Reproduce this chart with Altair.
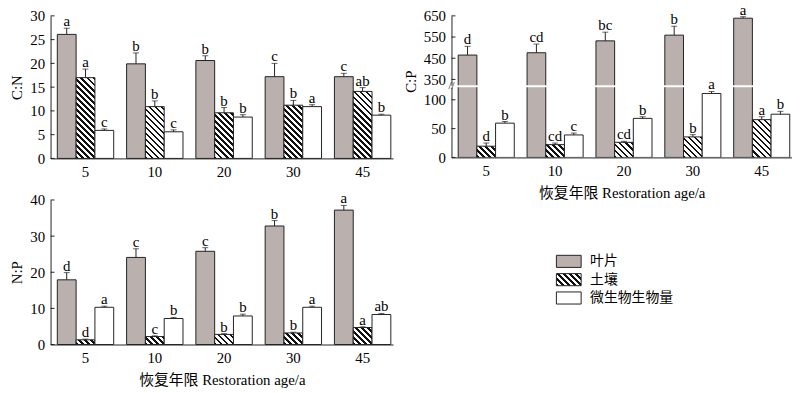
import altair as alt

# ---------------- data ----------------
ages = ["5", "10", "20", "30", "45"]
groups = ["叶片", "土壤", "微生物生物量"]

cn_leaf = [26.1, 19.9, 20.6, 17.2, 17.2]
cn_leaf_err = [27.4, 22.2, 21.6, 20.0, 17.9]
cn_soil = [17.0, 10.9, 9.6, 11.2, 14.1]
cn_soil_err = [18.8, 12.1, 10.7, 12.2, 14.9]
cn_mic = [5.9, 5.6, 8.7, 10.9, 9.1]
cn_mic_err = [6.2, 6.0, 9.2, 11.3, 9.3]
cn_leaf_sig = ["a", "b", "b", "c", "c"]
cn_soil_sig = ["a", "b", "b", "b", "ab"]
cn_mic_sig = ["c", "c", "b", "a", "b"]

cp_leaf = [465, 476, 532, 559, 639]
cp_leaf_err = [506, 517, 573, 601, 646]
cp_soil = [19.5, 22.2, 26.2, 35.6, 65.6]
cp_soil_err = [25.0, 25.0, 28.0, 39.5, 70.6]
cp_mic = [59.5, 39.0, 67.8, 111.0, 75.0]
cp_mic_err = [62.3, 42.3, 70.6, 114.5, 80.0]
cp_leaf_sig = ["d", "cd", "bc", "b", "a"]
cp_soil_sig = ["d", "cd", "cd", "b", "a"]
cp_mic_sig = ["b", "c", "b", "a", "b"]

np_leaf = [17.9, 24.1, 25.8, 32.8, 37.2]
np_leaf_err = [19.9, 26.5, 26.8, 34.3, 38.5]
np_soil = [1.3, 2.2, 2.8, 3.2, 4.7]
np_soil_err = [1.5, 2.4, 3.0, 3.4, 4.9]
np_mic = [10.3, 7.2, 7.9, 10.3, 8.3]
np_mic_err = [10.6, 7.5, 8.4, 10.6, 8.6]
np_leaf_sig = ["d", "c", "c", "b", "a"]
np_soil_sig = ["d", "c", "b", "b", "a"]
np_mic_sig = ["a", "b", "b", "a", "ab"]

cn_ticks = [0, 5, 10, 15, 20, 25, 30]
cp_top_ticks = [350, 450, 550, 650]
cp_bot_ticks = [0, 50, 100]
np_ticks = [0, 10, 20, 30, 40]

x_title = "恢复年限 Restoration age/a"
break_mark = "//"

# ---------------- style ----------------
LEAF = "#bab1ae"
INK = "#000000"
LINE = "#222222"
SERIF = "Liberation Serif"
MIXED = "Liberation Serif, Noto Sans CJK SC"
CJK = "Noto Sans CJK SC"
FS = 15

PW = 346          # panel width
PAD_IN, PAD_OUT, ALIGN = 0.186, 0.065, 0.75


def bar_width(width):
    step = width / (len(ages) - PAD_IN + 2 * PAD_OUT)
    return step * (1 - PAD_IN) / 3


def hatch(w, h, period=4.3, frac=0.45):
    """linear gradient giving 45deg '\\\\' stripes in a w x h px box"""
    h = max(h, 1.0)
    span = w + h
    c = span / (w * w + h * h)
    s = period * 2 ** 0.5 / span
    stops = []
    k = 0
    while k * s < 1:
        a = k * s
        b = min(a + frac * s, 1)
        e = min((k + 1) * s, 1)
        stops += [{"offset": a, "color": "#111111"}, {"offset": b, "color": "#111111"},
                  {"offset": b, "color": "#ffffff"}, {"offset": e, "color": "#ffffff"}]
        k += 1
    return {"gradient": "linear", "x1": 0, "y1": 1, "x2": c * w, "y2": 1 - c * h,
            "stops": stops}


def records(series, px_per_unit, width):
    bw = bar_width(width)
    rows = []
    for g, (vals, errs, sig) in zip(groups, series):
        for i, a in enumerate(ages):
            if g == "叶片":
                fill = LEAF
            elif g == "土壤":
                fill = hatch(bw, vals[i] * px_per_unit)
            else:
                fill = "#ffffff"
            rows.append({"age": a, "grp": g, "v": vals[i], "e": errs[i], "s": sig[i], "fill": fill})
    return rows


def panel(rows, domain, height, width, ticks, ytitle, xaxis, bar_groups, err_groups,
          clip=False, title_y=None, brk=False):
    xs = alt.Scale(domain=ages, paddingInner=PAD_IN, paddingOuter=PAD_OUT, align=ALIGN)
    xo = alt.XOffset("grp:N", scale=alt.Scale(domain=groups, paddingInner=0, paddingOuter=0))
    ys = alt.Scale(domain=domain, nice=False, zero=False)
    yaxis_kw = dict(values=ticks, title=ytitle, labelPadding=6, titlePadding=5)
    if title_y is not None:
        yaxis_kw["titleY"] = title_y
    yaxis = alt.Axis(**yaxis_kw)
    X = alt.X("age:N", scale=xs, axis=xaxis)

    brow = [r for r in rows if r["grp"] in bar_groups]
    erow = [r for r in rows if r["grp"] in err_groups]

    bars = alt.Chart(alt.Data(values=brow)).mark_bar(
        stroke=LINE, strokeWidth=1, clip=clip
    ).encode(
        x=X, xOffset=xo,
        y=alt.Y("v:Q", scale=ys, axis=yaxis),
        y2=alt.datum(0),
        fill=alt.Fill("fill:N", scale=None),
    )
    eb = alt.Chart(alt.Data(values=erow))
    rule = eb.mark_rule(color=LINE, strokeWidth=1).encode(
        x=X, xOffset=xo, y=alt.Y("v:Q", scale=ys, axis=yaxis), y2="e:Q")
    cap = eb.mark_tick(color=LINE, thickness=1, size=6, orient="horizontal").encode(
        x=X, xOffset=xo, y=alt.Y("e:Q", scale=ys, axis=yaxis))
    txt = eb.mark_text(font=SERIF, fontSize=FS, baseline="alphabetic", dy=-2,
                       fill=INK).encode(
        x=X, xOffset=xo, y=alt.Y("e:Q", scale=ys, axis=yaxis), text="s:N")
    tk = alt.Chart(alt.Data(values=[{"t": t} for t in ticks])).mark_rule(
        color=LINE, strokeWidth=1).encode(
        y=alt.Y("t:Q", scale=ys, axis=yaxis), x=alt.value(0), x2=alt.value(4))
    layers = [bars, rule, cap, txt, tk]
    if brk:
        bm = alt.Chart(alt.Data(values=[{"m": break_mark, "b": domain[1]}])).mark_text(
            font=SERIF, fontSize=11, fill=INK, baseline="middle", align="center", dy=-1
        ).encode(x=alt.value(0), y=alt.Y("b:Q", scale=ys, axis=yaxis), text="m:N")
        layers.append(bm)
    return alt.layer(*layers).properties(width=width, height=height)


xaxis_plain = alt.Axis(title=None, labelAngle=0, labelPadding=6)
xaxis_titled = alt.Axis(title=x_title, labelAngle=0, labelPadding=6, titlePadding=7)

# ---- C:N ----
H1 = 144
cn_rows = records([(cn_leaf, cn_leaf_err, cn_leaf_sig), (cn_soil, cn_soil_err, cn_soil_sig),
                   (cn_mic, cn_mic_err, cn_mic_sig)], H1 / 30, PW)
p_cn = panel(cn_rows, [0, 30], H1, PW, cn_ticks, "C:N", xaxis_plain, groups, groups)

# ---- C:P (broken axis) ----
PW2 = 344
HT, HB = 70, 71
TOP_DOM = [323, 650]
BOT_DOM = [0, 122]
cp_rows = records([(cp_leaf, cp_leaf_err, cp_leaf_sig), (cp_soil, cp_soil_err, cp_soil_sig),
                   (cp_mic, cp_mic_err, cp_mic_sig)], HB / BOT_DOM[1], PW2)
p_cp_top = panel(cp_rows, TOP_DOM, HT, PW2, cp_top_ticks, None, None,
                 ["叶片"], ["叶片"], clip=True)
p_cp_bot = panel(cp_rows, BOT_DOM, HB, PW2, cp_bot_ticks, "C:P", xaxis_titled,
                 groups, ["土壤", "微生物生物量"], clip=True, title_y=-6, brk=True)
p_cp = alt.vconcat(p_cp_top, p_cp_bot, spacing=2, bounds="flush").resolve_scale(
    x="independent", y="independent", xOffset="independent")

# ---- N:P ----
H3 = 146
np_rows = records([(np_leaf, np_leaf_err, np_leaf_sig), (np_soil, np_soil_err, np_soil_sig),
                   (np_mic, np_mic_err, np_mic_sig)], H3 / 40, PW)
p_np = panel(np_rows, [0, 40], H3, PW, np_ticks, "N:P", xaxis_titled, groups, groups)

# ---- legend ----
leg_fill = [LEAF, hatch(25, 12), "#ffffff"]
leg_rows = [{"name": g, "r": i, "fill": f} for i, (g, f) in enumerate(zip(groups, leg_fill))]
lscale = alt.Scale(domain=[-3.351, 4.54], reverse=True, nice=False, zero=False)
leg_base = alt.Chart(alt.Data(values=leg_rows)).transform_calculate(
    y0="datum.r - 0.33", y1="datum.r + 0.33")
leg_rect = leg_base.mark_rect(stroke=LINE, strokeWidth=1).encode(
    x=alt.value(0), x2=alt.value(25),
    y=alt.Y("y0:Q", scale=lscale, axis=None), y2="y1:Q",
    fill=alt.Fill("fill:N", scale=None))
leg_text = leg_base.mark_text(align="left", baseline="middle", font=CJK, fontSize=14,
                              fill=INK).encode(
    x=alt.value(34), y=alt.Y("r:Q", scale=lscale, axis=None), text="name:N")
legend = alt.layer(leg_rect, leg_text).properties(width=170, height=H3)

row1 = alt.hconcat(p_cn, p_cp, spacing=10).resolve_scale(
    x="independent", y="independent", xOffset="independent")
row2 = alt.hconcat(p_np, legend, spacing=164).resolve_scale(
    x="independent", y="independent", xOffset="independent")

chart = alt.vconcat(row1, row2, spacing=-11).resolve_scale(
    x="independent", y="independent", xOffset="independent"
).properties(
    padding={"left": 2, "top": -8, "right": 0, "bottom": 0},
    background="white",
).configure_view(stroke=None).configure_axis(
    domainColor=LINE, domainWidth=1, grid=False, ticks=False, tickSize=0,
    labelFont=SERIF, labelFontSize=FS, labelColor=INK,
    titleFont=MIXED, titleFontSize=FS, titleFontWeight="normal", titleColor=INK,
).configure_concat(spacing=0)

chart.save("out.html", embed_options={"renderer": "svg", "actions": False})
